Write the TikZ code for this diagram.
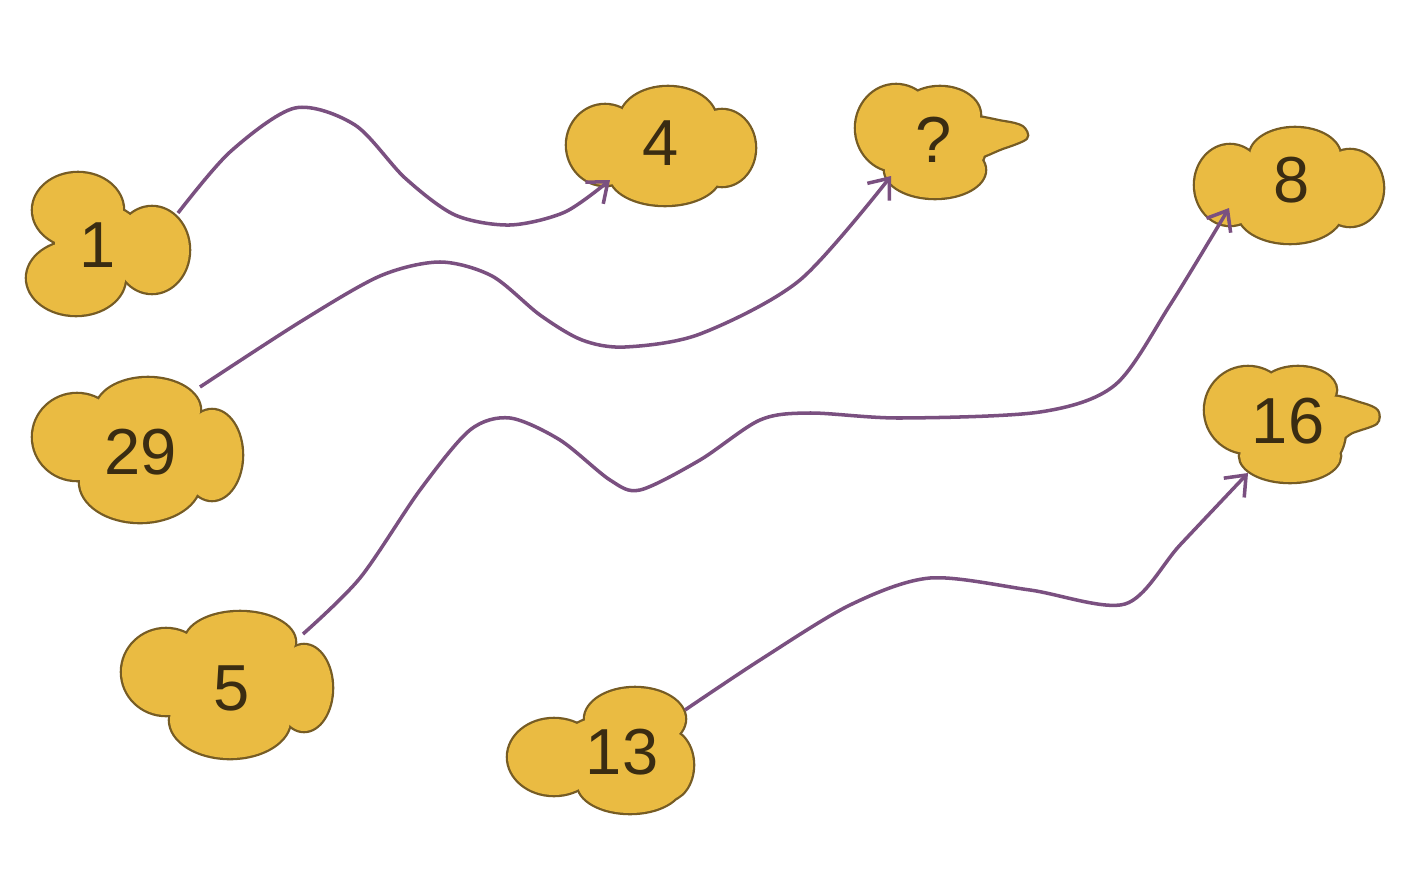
\documentclass[tikz,border=0pt]{standalone}
\usepackage{fontspec}
\setmainfont{Liberation Sans}
\usepackage{tikz}
\usetikzlibrary{arrows.meta,backgrounds}
\definecolor{blobgold}{RGB}{234,187,66}
\definecolor{blobedge}{RGB}{118,92,36}
\definecolor{linkpurple}{RGB}{122,80,128}
\definecolor{numbrown}{RGB}{58,44,18}

\tikzset{
    numtext/.style={inner sep=0pt, text=numbrown, font=\fontsize{18.5}{22}\selectfont},
    lobeedge/.style={draw=blobedge, line width=1.3pt},
    lobefill/.style={fill=blobgold},
    link/.style={draw=linkpurple, line width=1pt, -{Straight Barb[length=5pt,width=8pt]}}
}

% lobes of the clouds: x/y/rx/ry in pixels
\def\lobelist{%
    78/210/45/37, 76/278/49/37, 152/250/37/43, 100/245/45/40,%
    605/145/38/40, 668/120/48/33, 722/148/33/38, 665/175/55/30, 660/148/60/35,%
    896/128/40/43, 940/115/40/28, 962/142/24/33, 935/170/50/28, 928/145/45/35,%
    1230/185/35/40, 1295/156/45/28, 1350/188/33/38, 1290/212/52/31, 1290/188/60/35,%
    77/437/44/43, 148/410/52/32, 212/455/30/45, 140/482/60/40, 140/452/70/45,%
    1248/410/43/43, 1298/390/38/23, 1322/430/23/35, 1290/456/50/26, 1285/425/45/35,%
    166/672/44/43, 240/642/55/30, 304/688/28/43, 230/720/60/38, 232/690/70/45,%
    554/757/46/38, 635/719/50/31, 667/765/26/35, 630/784/52/29, 615/755/60/40}
\def\tongueq{(962,118) (1003,122) (1022,127) (1026,138) (1002,148) (968,158)}
\def\tonguesix{(1328,398) (1362,404) (1377,411) (1376,423) (1352,432) (1332,442)}

\begin{document}
\begin{tikzpicture}[x=0.01cm, y=-0.01cm]
    \useasboundingbox (0,0) rectangle (1422,870);

    % numbers
    \node[numtext] (one) at (98,245) {1};
    \node[numtext] (four) at (661,143) {4};
    \node[numtext] (what) at (934,140) {?};
    \node[numtext] (eight) at (1292,180) {8};
    \node[numtext] (twentynine) at (141,452) {29};
    \node[numtext] (sixteen) at (1288,421) {16};
    \node[numtext] (five) at (232,688) {5};
    \node[numtext] (thirteen) at (622,752) {13};

    % cloud bodies
    \begin{pgfonlayer}{background}
        \foreach \cx/\cy/\rx/\ry in \lobelist
            \draw[lobeedge] (\cx,\cy) ellipse ({\rx} and {\ry});
        \draw[lobeedge] plot[smooth cycle] coordinates {\tongueq};
        \draw[lobeedge] plot[smooth cycle] coordinates {\tonguesix};
        \foreach \cx/\cy/\rx/\ry in \lobelist
            \fill[lobefill] (\cx,\cy) ellipse ({\rx} and {\ry});
        \fill[lobefill] plot[smooth cycle] coordinates {\tongueq};
        \fill[lobefill] plot[smooth cycle] coordinates {\tonguesix};
    \end{pgfonlayer}

    % wavy arrows
    \draw[link] plot[smooth] coordinates {([shift={(80,-32)}]one.center) (230,152) (295,108) (355,125) (405,178) (455,215) (510,225) (565,212) ([shift={(-51,37)}]four.center)};
    \draw[link] plot[smooth] coordinates {([shift={(59,-65)}]twentynine.center) (300,322) (380,276) (440,262) (492,276) (540,315) (582,340) (625,347) (700,334) (800,280) ([shift={(-43,36)}]what.center)};
    \draw[link] plot[smooth] coordinates {([shift={(71,-54)}]five.center) (360,578) (420,490) (470,430) (510,418) (560,440) (610,480) (640,490) (700,460) (760,420) (810,413) (900,418) (1040,412) (1115,385) (1170,305) ([shift={(-63,28)}]eight.center)};
    \draw[link] plot[smooth] coordinates {([shift={(63,-42)}]thirteen.center) (760,660) (850,605) (930,578) (1030,590) (1125,604) (1180,545) ([shift={(-40,52)}]sixteen.center)};
\end{tikzpicture}
\end{document}
